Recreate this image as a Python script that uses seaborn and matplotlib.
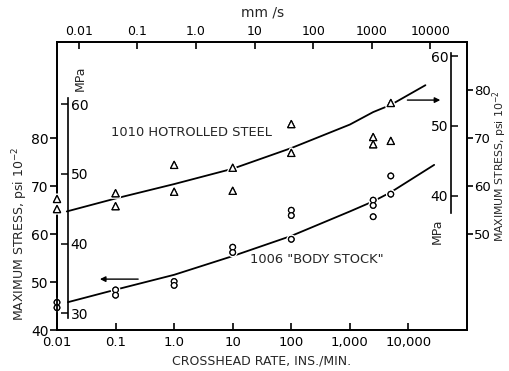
import matplotlib
matplotlib.use("Agg")
import matplotlib.pyplot as plt
import matplotlib.patheffects as pe
from matplotlib.ticker import NullLocator
import seaborn as sns

# ---- data ----
# 1010 hot-rolled steel (read on right axis, psi x 10^-2)
rate_1010 = [0.01, 0.01, 0.1, 0.1, 1, 1, 10, 10, 100, 100, 2500, 2500, 5000, 5000]
stress_1010 = [57.3, 55.2, 58.5, 55.8, 64.4, 58.8, 63.8, 59.0, 72.9, 66.9, 70.2, 68.7, 77.3, 69.4]
fit_rate_1010 = [0.0147, 0.1, 1, 10, 100, 1000, 2500, 5000, 19500]
fit_stress_1010 = [54.7, 57.4, 60.4, 63.6, 67.9, 72.8, 75.4, 76.9, 81.0]

# 1006 "body stock" (read on left axis, psi x 10^-2)
rate_1006 = [0.01, 0.01, 0.1, 0.1, 1, 1, 10, 10, 100, 100, 100, 2500, 2500, 2500, 5000, 5000]
stress_1006 = [45.75, 44.65, 48.35, 47.25, 50.1, 49.3, 57.25, 56.15, 64.95, 63.85, 58.9,
               67.05, 65.95, 63.6, 72.1, 68.3]
fit_rate_1006 = [0.0154, 0.1, 1, 10, 100, 1000, 2500, 5000, 27500]
fit_stress_1006 = [45.8, 48.4, 51.5, 55.4, 59.6, 64.7, 66.8, 68.7, 74.4]

x_ticks = [0.01, 0.1, 1, 10, 100, 1000, 10000]
x_tick_labels = ["0.01", "0.1", "1.0", "10", "100", "1,000", "10,000"]
top_ticks = [0.01, 0.1, 1, 10, 100, 1000, 10000]
top_tick_labels = ["0.01", "0.1", "1.0", "10", "100", "1000", "10000"]
left_psi_ticks = [40, 50, 60, 70, 80]
right_psi_ticks = [50, 60, 70, 80]
mpa_left_ticks = [30, 40, 50, 60]
mpa_right_ticks = [40, 50, 60]

MM_S_PER_IN_MIN = 25.4 / 60.0
PSI100_PER_MPA = 1.4504

sns.set_style("ticks")
plt.rcParams['font.family'] = ['DejaVu Sans']
plt.rcParams['axes.edgecolor'] = 'black'
plt.rcParams['xtick.color'] = 'black'
plt.rcParams['ytick.color'] = 'black'

fig = plt.figure(figsize=(5.09, 3.71), dpi=100)
W, H = 509, 371
ax = fig.add_axes([57 / W, 41 / H, 410 / W, 288 / H])
ax.set_xscale('log')
ax.set_xlim(0.01, 1e5)
ax.set_ylim(40, 100)
ax2 = ax.twinx()
ax2.set_ylim(30, 90)

halo = [pe.withStroke(linewidth=3, foreground='white')]

# curves
sns.lineplot(x=fit_rate_1006, y=fit_stress_1006, ax=ax, color='black', linewidth=1.3, zorder=2)
sns.lineplot(x=fit_rate_1010, y=fit_stress_1010, ax=ax2, color='black', linewidth=1.3, zorder=2)

# points
sns.scatterplot(x=rate_1006, y=stress_1006, ax=ax, marker='o', s=16,
                facecolor='white', edgecolor='black', linewidth=0.9, zorder=3, clip_on=False)
sns.scatterplot(x=rate_1010, y=stress_1010, ax=ax2, marker='^', s=26,
                facecolor='white', edgecolor='black', linewidth=0.9, zorder=3, clip_on=False)
for a in (ax, ax2):
    for c in a.collections:
        c.set_path_effects(halo + [pe.Normal()])

# arrows
arrow_kw = dict(arrowstyle='-|>', color='black', lw=1.0, mutation_scale=8, shrinkA=0, shrinkB=0)
ax.annotate('', xy=(0.054, 50.6), xytext=(0.243, 50.6), arrowprops=arrow_kw)
ax2.annotate('', xy=(35000, 77.9), xytext=(9600, 77.9), arrowprops=arrow_kw)

# series labels
ax.text(0.0838, 81.25, "1010 HOTROLLED STEEL", fontsize=9.4, ha='left', va='center')
ax.text(19.9, 54.6, '1006 "BODY STOCK"', fontsize=9.4, ha='left', va='center')

# spines
for a in (ax, ax2):
    for sp in a.spines.values():
        sp.set_linewidth(1.3)
        sp.set_color('black')

# bottom axis
ax.set_xticks(x_ticks)
ax.set_xticklabels(x_tick_labels)
ax.xaxis.set_minor_locator(NullLocator())
ax.tick_params(axis='x', which='both', direction='in', length=5, width=1.2,
               top=False, labelsize=9.5, pad=4)
ax.set_xlabel("CROSSHEAD RATE, INS./MIN.", fontsize=9, labelpad=4)

# left psi axis
ax.set_yticks(left_psi_ticks)
ax.tick_params(axis='y', direction='out', length=5, width=1.2, right=False,
               labelsize=10, pad=1)
ax.set_ylabel("")
ax2.set_yticks(right_psi_ticks)
ax2.tick_params(axis='y', direction='out', length=4, width=1.2, labelsize=9.5, pad=1)
ax2.set_ylabel("")

# top mm/s axis
top = ax.secondary_xaxis('top', functions=(lambda x: x * MM_S_PER_IN_MIN,
                                           lambda x: x / MM_S_PER_IN_MIN))
top.set_xticks(top_ticks)
top.set_xticklabels(top_tick_labels)
top.xaxis.set_minor_locator(NullLocator())
top.tick_params(axis='x', which='both', direction='in', length=5, width=1.2,
                labelsize=9, pad=3)
top.spines['top'].set_visible(False)

# inner MPa axes
mpa_l = ax.secondary_yaxis(11 / 410, functions=(lambda p: p / PSI100_PER_MPA,
                                                lambda m: m * PSI100_PER_MPA))
mpa_l.set_alignment('right')
mpa_l.set_yticks(mpa_left_ticks)
mpa_l.yaxis.set_minor_locator(NullLocator())
mpa_l.tick_params(axis='y', direction='in', length=5, width=1.1, labelsize=10, pad=2)
mpa_l.spines['right'].set_bounds(29.3, 60.9)
mpa_l.spines['right'].set_linewidth(1.2)

mpa_r = ax2.secondary_yaxis(394 / 410, functions=(lambda p: p / PSI100_PER_MPA,
                                                  lambda m: m * PSI100_PER_MPA))
mpa_r.set_alignment('left')
mpa_r.set_yticks(mpa_right_ticks)
mpa_r.yaxis.set_minor_locator(NullLocator())
mpa_r.tick_params(axis='y', direction='in', length=5, width=1.1, labelsize=10, pad=2)
mpa_r.spines['left'].set_bounds(37.5, 60.5)
mpa_r.spines['left'].set_linewidth(1.2)

# free labels
fig.text(20 / W, 1 - 234 / H, "MAXIMUM STRESS, psi 10$^{-2}$", rotation=90,
         fontsize=9, ha='center', va='center')
fig.text(500 / W, 1 - 166 / H, "MAXIMUM STRESS, psi 10$^{-2}$", rotation=90,
         fontsize=7.8, ha='center', va='center')
fig.text(80 / W, 1 - 78 / H, "MPa", rotation=90, fontsize=9, ha='center', va='center')
fig.text(437 / W, 1 - 231 / H, "MPa", rotation=90, fontsize=9, ha='center', va='center')
fig.text(263 / W, 1 - 13 / H, "mm /s", fontsize=10, ha='center', va='center')

fig.savefig("out.png", dpi=100)
